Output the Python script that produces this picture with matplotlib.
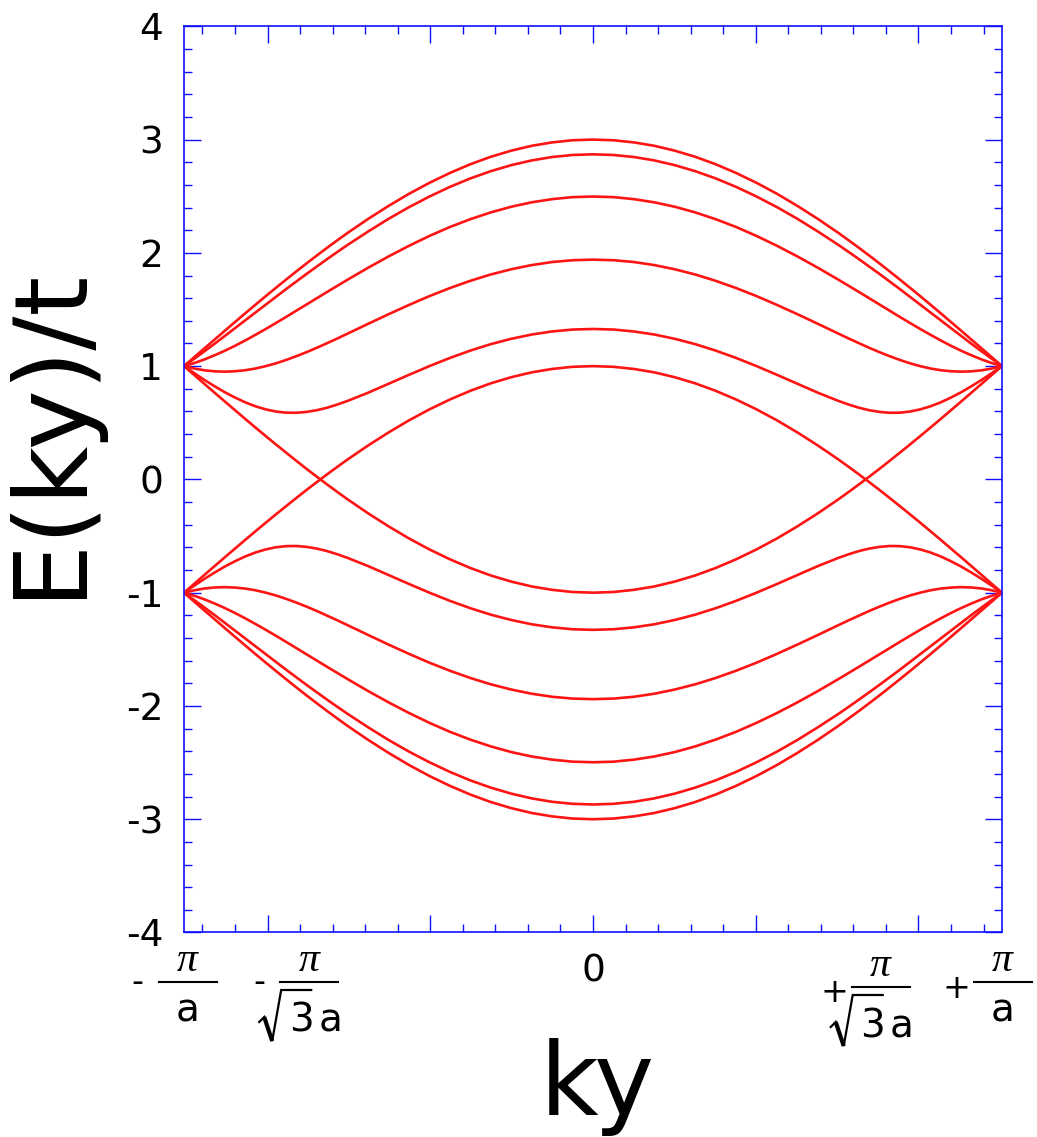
import numpy as np
import matplotlib
matplotlib.use("Agg")
import matplotlib.pyplot as plt
from matplotlib.ticker import MultipleLocator, FixedLocator
from matplotlib.lines import Line2D
from matplotlib.transforms import IdentityTransform

# ---------------- data ----------------
# ky in units of 1/a, right half (0 .. pi/a); the chart is mirror-symmetric in ky
ky_half = [0.0, 0.1571, 0.3142, 0.4712, 0.6283, 0.7854, 0.9425, 1.0996, 1.2566,
           1.4137, 1.5708, 1.7279, 1.8850, 1.9635, 2.0420, 2.1206, 2.1991,
           2.2777, 2.3562, 2.4347, 2.5133, 2.5918, 2.6704, 2.7489, 2.8274,
           2.9060, 2.9845, 3.0631, 3.1416]
# positive-energy bands E(ky)/t (negative bands are their mirror images -E)
band1 = [3.000, 2.994, 2.975, 2.945, 2.902, 2.848, 2.782, 2.705, 2.618, 2.521,
         2.414, 2.299, 2.176, 2.111, 2.045, 1.977, 1.908, 1.837, 1.765, 1.692,
         1.618, 1.543, 1.467, 1.390, 1.313, 1.235, 1.157, 1.079, 1.000]
band2 = [2.870, 2.864, 2.846, 2.816, 2.774, 2.721, 2.657, 2.582, 2.497, 2.403,
         2.300, 2.188, 2.070, 2.008, 1.945, 1.880, 1.815, 1.748, 1.681, 1.612,
         1.543, 1.474, 1.405, 1.336, 1.267, 1.198, 1.131, 1.065, 1.000]
band3 = [2.497, 2.492, 2.474, 2.446, 2.407, 2.357, 2.297, 2.228, 2.149, 2.062,
         1.968, 1.868, 1.763, 1.709, 1.655, 1.600, 1.545, 1.490, 1.435, 1.381,
         1.328, 1.277, 1.227, 1.180, 1.136, 1.096, 1.059, 1.027, 1.000]
band4 = [1.940, 1.935, 1.919, 1.892, 1.855, 1.809, 1.753, 1.689, 1.618, 1.540,
         1.458, 1.373, 1.287, 1.244, 1.203, 1.162, 1.124, 1.088, 1.055, 1.025,
         1.000, 0.979, 0.964, 0.955, 0.951, 0.954, 0.963, 0.979, 1.000]
band5 = [1.328, 1.323, 1.306, 1.279, 1.241, 1.194, 1.137, 1.072, 1.000, 0.923,
         0.844, 0.765, 0.693, 0.661, 0.633, 0.611, 0.596, 0.588, 0.589, 0.599,
         0.618, 0.645, 0.680, 0.722, 0.769, 0.822, 0.878, 0.938, 1.000]
band6 = [1.000, 0.994, 0.975, 0.945, 0.902, 0.848, 0.782, 0.705, 0.618, 0.521,
         0.414, 0.299, 0.176, 0.111, 0.045, -0.023, -0.092, -0.163, -0.235, -0.308,
         -0.382, -0.457, -0.533, -0.610, -0.687, -0.765, -0.843, -0.922, -1.000]
bands = [band1, band2, band3, band4, band5, band6]

y_ticks = [-4, -3, -2, -1, 0, 1, 2, 3, 4]
y_ticklabels = ["-4", "-3", "-2", "-1", "0", "1", "2", "3", "4"]
# custom ky tick labels: position (1/a), sign, denominator kind
xlab_pos = [-3.113, -2.180, 0.0, 2.210, 3.147]
xlab_sign = ["-", "-", "", "+", "+"]
xlab_kind = ["a", "sqrt3a", "zero", "sqrt3a", "a"]

# ---------------- figure ----------------
W, H = 1037, 1137
fig = plt.figure(figsize=(W / 100, H / 100), dpi=100)
ax = fig.add_axes([0.17743, 0.17986, 0.78881, 0.79701])

RED = "#ff1414"
BLUE = "#1010ff"
ky_full = np.concatenate([-np.array(ky_half)[::-1], np.array(ky_half)[1:]])
for b in bands:
    b = np.array(b)
    e_full = np.concatenate([b[::-1], b[1:]])
    ax.plot(ky_full, e_full, color=RED, lw=1.9, solid_joinstyle="round")
    ax.plot(ky_full, -e_full, color=RED, lw=1.9, solid_joinstyle="round")

ax.set_xlim(-np.pi, np.pi)
ax.set_ylim(-4, 4)

ax.xaxis.set_major_locator(MultipleLocator(1.25))
ax.xaxis.set_minor_locator(MultipleLocator(0.25))
ax.yaxis.set_major_locator(FixedLocator(y_ticks))
ax.yaxis.set_minor_locator(MultipleLocator(0.2))
ax.set_yticklabels(y_ticklabels, fontsize=27, family="DejaVu Sans")
ax.tick_params(which="both", direction="in", top=True, right=True,
               colors=BLUE, labelcolor="black")
ax.tick_params(which="major", length=12, width=1.0)
ax.tick_params(which="minor", length=6, width=1.0)
ax.tick_params(axis="x", labelbottom=False)
ax.tick_params(axis="y", pad=15)
for s in ax.spines.values():
    s.set_color(BLUE)
    s.set_linewidth(1.2)

# axis titles
fig.text(78 / W, 1 - 432 / H, "E(ky)/t", rotation=90, rotation_mode="anchor",
         ha="center", va="baseline", fontsize=73, family="DejaVu Sans")
fig.text(597 / W, 1 - 1115 / H, "ky", ha="center", va="baseline",
         fontsize=73, family="DejaVu Sans")

# custom ky tick labels (fractions), laid out in display pixels
ID = IdentityTransform()
def Y(ytop):
    return H - ytop

TXT = dict(transform=ID, family="DejaVu Sans")
for pos, sign, kind in zip(xlab_pos, xlab_sign, xlab_kind):
    xc = ax.transData.transform((pos, 0))[0]
    if kind == "zero":
        fig.text(xc, Y(972), "0", ha="center", va="center", fontsize=27, **TXT)
        continue
    by = 987 if (kind == "sqrt3a" and sign == "+") else 982
    # sign
    if sign == "-":
        fig.text(xc - 50, Y(by), sign, ha="center", va="center", fontsize=24, **TXT)
    else:
        fig.text(xc - 46, Y(by + 6), sign, ha="center", va="center", fontsize=24, **TXT)
    # numerator pi
    fig.text(xc, Y(by - 21), "\u03c0", transform=ID, ha="center", va="center",
             fontsize=30, family="Liberation Serif", style="italic")
    # fraction bar
    fig.add_artist(Line2D([xc - 29, xc + 29], [Y(by), Y(by)], transform=ID,
                          color="black", lw=1.5))
    if kind == "a":
        fig.text(xc, Y(by + 40), "a", ha="center", va="baseline", fontsize=28, **TXT)
    else:
        # radical sign
        rx = [xc - 50, xc - 45, xc - 37, xc - 28, xc + 2]
        ry = [Y(by + 40), Y(by + 35), Y(by + 59), Y(by + 8), Y(by + 8)]
        fig.add_artist(Line2D(rx, ry, transform=ID, color="black", lw=1.6,
                              solid_joinstyle="miter"))
        fig.add_artist(Line2D(rx[1:3], ry[1:3], transform=ID, color="black",
                              lw=3.0, solid_capstyle="butt"))
        fig.text(xc - 8, Y(by + 50), "3", ha="center", va="baseline",
                 fontsize=28, **TXT)
        fig.text(xc + 21, Y(by + 50), "a", ha="center", va="baseline",
                 fontsize=28, **TXT)

fig.savefig("out.png", dpi=100)
